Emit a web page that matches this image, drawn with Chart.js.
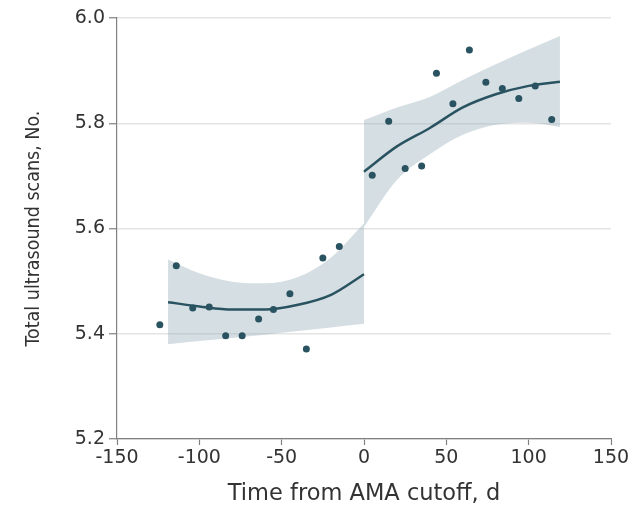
<!DOCTYPE html>
<html>
<head>
<meta charset="utf-8">
<script src="https://cdn.jsdelivr.net/npm/chart.js@4"></script>
<style>
  html, body { margin: 0; padding: 0; background: #fff; }
  #wrap { width: 639px; height: 506px; }
</style>
</head>
<body>
<div id="wrap"><canvas id="grafico"></canvas></div>
<script>
// dados
const leftDays = [-124, -114, -104, -94, -84, -74, -64, -55, -45, -35, -25, -15];
const leftScans = [5.417, 5.529, 5.449, 5.451, 5.396, 5.396, 5.428, 5.446, 5.476, 5.371, 5.544, 5.566];
const rightDays = [5, 15, 25, 35, 44, 54, 64, 74, 84, 94, 104, 114];
const rightScans = [5.701, 5.804, 5.714, 5.719, 5.895, 5.837, 5.939, 5.878, 5.866, 5.847, 5.871, 5.807];

// curvas ajustadas e intervalo de confiança
const fitLeftDays = [-119, -100, -80, -60, -40, -20, 0];
const fitLeft = [5.460, 5.452, 5.446, 5.446, 5.455, 5.474, 5.513];
const fitLeftUpper = [5.541, 5.515, 5.499, 5.496, 5.508, 5.545, 5.610];
const fitLeftLower = [5.380, 5.386, 5.392, 5.398, 5.405, 5.412, 5.419];
const fitRightDays = [0, 20, 40, 60, 80, 100, 119];
const fitRight = [5.708, 5.756, 5.791, 5.830, 5.855, 5.871, 5.879];
const fitRightUpper = [5.806, 5.830, 5.850, 5.882, 5.912, 5.940, 5.966];
const fitRightLower = [5.603, 5.692, 5.741, 5.778, 5.797, 5.801, 5.793];

const xTicks = [-150, -100, -50, 0, 50, 100, 150];
const yTicks = [5.2, 5.4, 5.6, 5.8, 6.0];

const pts = (xs, ys) => xs.map((x, i) => ({ x: x, y: ys[i] }));

const corEscura = '#2a5361';
const corFaixa = 'rgba(150,172,182,0.4)';

// order maior = desenhado por baixo
const faixa = (xs, ys, fill) => ({
    type: 'line', data: pts(xs, ys), borderWidth: 0, pointRadius: 0, order: 3,
    backgroundColor: corFaixa, fill: fill, cubicInterpolationMode: 'monotone'
});
const linha = (xs, ys) => ({
    type: 'line', data: pts(xs, ys), borderColor: corEscura, borderWidth: 2.5, order: 2,
    pointRadius: 0, fill: false, cubicInterpolationMode: 'monotone'
});
const pontos = (xs, ys) => ({
    type: 'scatter', data: pts(xs, ys), backgroundColor: corEscura, order: 1,
    borderWidth: 0, pointRadius: 3.5
});

new Chart(document.getElementById('grafico'), {
    type: 'scatter',
    data: {
        datasets: [
            faixa(fitLeftDays, fitLeftLower, false),
            faixa(fitLeftDays, fitLeftUpper, '-1'),
            faixa(fitRightDays, fitRightLower, false),
            faixa(fitRightDays, fitRightUpper, '-1'),
            linha(fitLeftDays, fitLeft),
            linha(fitRightDays, fitRight),
            pontos(leftDays, leftScans),
            pontos(rightDays, rightScans)
        ]
    },
    options: {
        responsive: true,
        maintainAspectRatio: false,
        animation: false,
        layout: { padding: { top: 18, right: 28, left: 0, bottom: 0 } },
        plugins: { legend: { display: false }, tooltip: { enabled: false } },
        scales: {
            x: {
                type: 'linear', min: -150, max: 150,
                afterBuildTicks: s => { s.ticks = xTicks.map(v => ({ value: v })); },
                afterFit: s => { s.height = 67; },
                grid: { drawOnChartArea: false, drawTicks: true, tickLength: 6, tickColor: '#808080', tickWidth: 1.2 },
                border: { color: '#808080', width: 1.2 },
                ticks: { color: '#333', font: { family: 'DejaVu Sans', size: 19 }, padding: 2 },
                title: {
                    display: true, text: 'Time from AMA cutoff, d', color: '#333',
                    font: { family: 'DejaVu Sans', size: 22.5, lineHeight: 0.8 }, padding: { top: 0, bottom: 3 }
                }
            },
            y: {
                min: 5.2, max: 6.0,
                afterBuildTicks: s => { s.ticks = yTicks.map(v => ({ value: v })); },
                afterFit: s => { s.width = 117; },
                grid: { color: '#e4e4e4', lineWidth: 1.5, tickLength: 8, tickColor: '#808080', tickWidth: 1.2 },
                border: { color: '#808080', width: 1.2 },
                ticks: {
                    color: '#333', font: { family: 'DejaVu Sans', size: 19 }, padding: 4,
                    callback: v => v.toFixed(1)
                },
                title: {
                    display: true, text: 'Total ultrasound scans, No.', color: '#333',
                    font: { family: 'DejaVu Sans Condensed', size: 19.5 },
                    padding: { top: 22, bottom: 0 }
                }
            }
        }
    }
});
</script>
</body>
</html>
